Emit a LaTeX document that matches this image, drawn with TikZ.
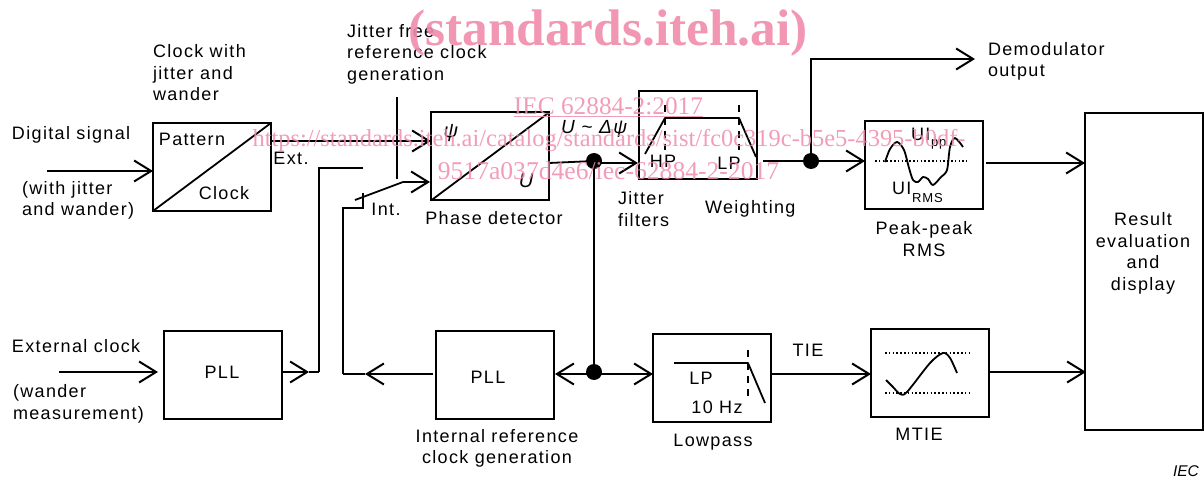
\documentclass[tikz,border=0pt]{standalone}
\usepackage{fontspec}
\setmainfont[LetterSpace=7.5]{Liberation Sans}
\newfontfamily\wmfont{Liberation Serif}
\newfontfamily\plainsans{Liberation Sans}
\usetikzlibrary{arrows.meta}
\definecolor{wmpink}{HTML}{F08CAB}
\tikzset{
  x=1pt,y=-1pt,
  >={Straight Barb[length=17pt,width=21pt,line width=2pt]},
  wire/.style={line width=1.8pt,black},
  blockbox/.style={draw=black,line width=2pt,inner sep=0pt,outer sep=0pt,minimum width=118pt,minimum height=88pt},
  curveline/.style={line width=1.8pt,black,line join=round},
  dotline/.style={line width=1.4pt,black,dash pattern=on 1.6pt off 2.2pt},
  dashline/.style={line width=1.6pt,black,dash pattern=on 7pt off 6pt},
  lbl/.style={inner sep=0pt,outer sep=0pt,font=\fontsize{18}{21.5}\selectfont,text=black,align=left},
  lblc/.style={lbl,align=center},
  junction/.style={circle,fill=black,inner sep=0pt,minimum size=16pt},
  wmbig/.style={inner sep=0pt,font=\wmfont\bfseries\fontsize{51.4}{51.4}\selectfont,text=wmpink,text opacity=.9},
  wmsmall/.style={inner sep=0pt,font=\wmfont\fontsize{25.3}{25.3}\selectfont,text=wmpink,text opacity=.85},
}
\begin{document}
\begin{tikzpicture}
\useasboundingbox (0,0) rectangle (1204,478);
% blocks
\node[blockbox] (pattern) at (212,167) {};
\node[blockbox] (phase) at (490,156.5) {};
\node[blockbox] (filter) at (698,135) {};
\node[blockbox] (peak) at (924,165) {};
\node[blockbox,minimum height=317pt] (result) at (1144,271.5) {};
\node[blockbox] (pllA) at (223,375) {};
\node[blockbox] (pllB) at (495,375) {};
\node[blockbox] (lowpass) at (712,378) {};
\node[blockbox] (mtie) at (930,373) {};
% diagonals
\draw[wire] (pattern.south west) -- (pattern.north east);
\draw[wire] (phase.south west) -- (phase.north east);
% junctions
\node[junction] (jA) at (594,161) {};
\node[junction] (jB) at (811,161) {};
\node[junction] (jC) at (594,372) {};
% named free ends
\coordinate (inDig) at (47,171);
\coordinate (tipDig) at (153,171);
\coordinate (inExt) at (59,372);
\coordinate (tipExt) at (158,372);
\coordinate (patOut) at (271,141);
\coordinate (phaseA) at (431,141);
\coordinate (phaseB) at (430,182);
\coordinate (refTop) at (397,97);
\coordinate (refBot) at (397,179);
\coordinate (swL) at (355,200);
\coordinate (swR) at (403,182);
\coordinate (swTickT) at (363,193);
\coordinate (swTickB) at (363,208);
\coordinate (intCorner) at (343,208);
\coordinate (intLow) at (343,374);
\coordinate (extEnd) at (363,168);
\coordinate (extCorner) at (319,168);
\coordinate (extLow) at (319,372);
\coordinate (tipA) at (309,372);
\coordinate (tipB) at (365,374);
\coordinate (pllBin) at (433,374);
\coordinate (phaseOut) at (549,163);
\coordinate (filtTip) at (638,163);
\coordinate (filtOut) at (763,161);
\coordinate (peakIn) at (865,161);
\coordinate (demCorner) at (811,59);
\coordinate (demTip) at (975,59);
\coordinate (peakOut) at (986,163);
\coordinate (resA) at (1085,163);
\coordinate (resB) at (1086,372);
\coordinate (lpIn) at (653,374);
\coordinate (pllBout) at (555,374);
\coordinate (lpOut) at (771,374);
\coordinate (mtIn) at (871,374);
\coordinate (mtOut) at (989,372);
% connectors
\draw[wire,->] (inDig) -- (tipDig);
\draw[wire,->] (inExt) -- (tipExt);
\draw[wire,->] (patOut) -- (phaseA);
\draw[wire] (refTop) -- (refBot);
\draw[wire] (swL) -- (swR);
\draw[wire,->] (swR) -- (phaseB);
\draw[wire] (swTickT) -- (swTickB) -- (intCorner) -- (intLow);
\draw[wire] (extEnd) -- (extCorner) -- (extLow);
\draw[wire,->] (pllA.east |- extLow) -- (tipA);
\draw[wire] (tipA) -- (extLow);
\draw[wire,->] (pllBin) -- (tipB);
\draw[wire] (tipB) -- (intLow);
\draw[wire] (phaseOut) -- (jA.center);
\draw[wire,->] (jA.center |- phaseOut) -- (filtTip);
\draw[wire] (jA.center) -- (jC.center);
\draw[wire,->] (filtOut) -- (peakIn);
\draw[wire,->] (jB.center) -- (demCorner) -- (demTip);
\draw[wire,->] (peakOut) -- (resA);
\draw[wire,->] (jC.center |- lpIn) -- (lpIn);
\draw[wire,->] (jC.center |- pllBout) -- (pllBout);
\draw[wire,->] (lpOut) -- (mtIn);
\draw[wire,->] (mtOut) -- (resB);
% filter curve
\draw[curveline] (645,154) -- (665,118) -- (739,118) -- (756,157);
\draw[dashline] (665,105) -- (665,150);
\draw[dashline] (739,105) -- (739,150);
% peak block
\draw[dotline] (875,161) -- (967,161);
\draw[curveline] plot[smooth,tension=.5] coordinates {(885,162) (890,149) (897,142) (904,150) (909,168) (913,180) (918,182) (923,177) (928,179) (933,185) (941,177) (947,170) (950,147) (955,138) (963,147)};
% lowpass block
\draw[curveline] (674,363) -- (748,363) -- (765,403);
\draw[dashline] (748,350) -- (748,396);
% mtie block
\draw[dotline] (885,353) -- (971,353);
\draw[dotline] (885,393) -- (971,393);
\draw[curveline] plot[smooth,tension=.5] coordinates {(886,380) (893,387) (900,394) (907,392) (930,363) (943,353) (950,358) (957,373)};
% labels
\node[lbl,anchor=west] (tDigital) at (12,134.5) {Digital signal};
\node[lbl,anchor=west] (tWith) at (22,200.5) {(with jitter\\and wander)};
\node[lbl,anchor=west] (tClock) at (153,73) {Clock with\\jitter and\\wander};
\node[lbl,anchor=west] (tJitter) at (347,54) {Jitter free\\reference clock\\generation};
\node[lbl] (tPattern) at (192,139.5) {Pattern};
\node[lbl] (tClk) at (224,193) {Clock};
\node[lbl] (tExtS) at (291,158) {Ext.};
\node[lbl] (tInt) at (386,209) {Int.};
\node[lbl] (tPsi) at (451,133) {\plainsans\itshape\fontsize{20}{20}\selectfont ψ};
\node[lbl] (tU) at (526,181) {\plainsans\itshape\fontsize{20}{20}\selectfont U};
\node[lbl,anchor=west,font=\fontsize{19}{19}\selectfont] (tUpsi) at (561,129) {\itshape U \textasciitilde{} Δψ};
\node[lbl] (tPhase) at (494,218.5) {Phase detector};
\node[lbl] (tHP) at (663,161) {HP};
\node[lbl] (tLP) at (729,163) {LP};
\node[lbl,anchor=west] (tJit) at (618,209) {Jitter\\filters};
\node[lbl,anchor=west] (tWeight) at (705,208.5) {Weighting};
\node[lbl,anchor=west] (tDemod) at (988,61.5) {Demodulator\\output};
\node[lbl,anchor=west] (tUIpp) at (911,134) {UI};
\node[lbl,anchor=west,font=\fontsize{13}{13}\selectfont] (tpp) at (931,144) {pp};
\node[lbl,anchor=west] (tUIr) at (892,188) {UI};
\node[lbl,anchor=west,font=\fontsize{13}{13}\selectfont] (tRMSs) at (912,198) {RMS};
\node[lblc] (tPeak) at (924,239) {Peak-peak\\RMS};
\node[lblc] (tResult) at (1143,253.5) {Result\\evaluation\\and\\display};
\node[lbl,anchor=west] (tExt) at (12,346) {External clock};
\node[lbl,anchor=west] (tWander) at (13,404) {(wander\\measurement)};
\node[lbl] (tPLLa) at (222,372) {PLL};
\node[lbl] (tPLLb) at (488,377) {PLL};
\node[lblc] (tInternal) at (497,448.5) {Internal reference\\clock generation};
\node[lbl] (tLPb) at (701,378) {LP};
\node[lbl] (t10) at (717,407) {10 Hz};
\node[lbl] (tLow) at (713,442) {Lowpass};
\node[lbl] (tTIE) at (808,350) {TIE};
\node[lbl] (tMTIE) at (919,434) {MTIE};
\node[lbl,font=\plainsans\itshape\fontsize{15.5}{15.5}\selectfont] (tIEC) at (1186,471) {IEC};
% overprinted watermark
\node[wmbig] (wmA) at (608,33) {(standards.iteh.ai)};
\node[wmsmall] (wmB) at (608.5,107) {\underline{IEC 62884-2:2017}};
\node[wmsmall,font=\wmfont\fontsize{24.45}{24.45}\selectfont] (wmC) at (609,141) {https://standards.iteh.ai/catalog/standards/sist/fc0c319c-b5e5-4395-b0df-};
\node[wmsmall,font=\wmfont\fontsize{25.6}{25.6}\selectfont] (wmD) at (608.5,171) {9517a037d4e6/iec-62884-2-2017};
\end{tikzpicture}
\end{document}
